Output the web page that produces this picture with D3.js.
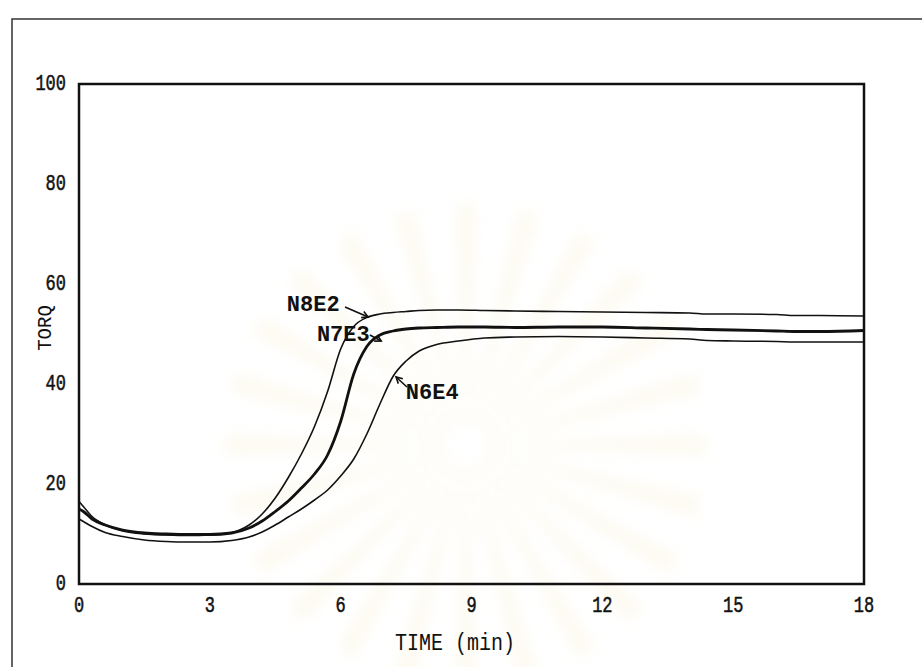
<!DOCTYPE html>
<html>
<head>
<meta charset="utf-8">
<script src="https://cdn.jsdelivr.net/npm/d3@7"></script>
<style>
  body { margin: 0; background: #fff; }
  text { font-family: "Liberation Mono", "DejaVu Sans Mono", monospace; fill: #111; }
</style>
</head>
<body>
<div id="canvas"></div>
<script>
// chart size
const width = 922;
const height = 667;

// time axis (min), shared by all three curves
const time = [0, 0.1, 0.3, 0.6, 1, 1.5, 2, 2.5, 3, 3.5, 3.9, 4.2, 4.5, 4.8, 5.1, 5.4, 5.7, 6.0, 6.3, 6.6,
  6.9, 7.2, 7.5, 7.8, 8.2, 8.7, 9.3, 10, 11, 12, 13, 14, 14.4, 15, 16, 16.4, 17, 18];

// torque readings per compound
const n8e2 = [16.5, 15.5, 13.5, 11.8, 10.6, 10, 9.8, 9.7, 9.8, 10.3, 11.8, 14, 17.2, 21.3, 26, 31.5, 38.5, 47, 51.5, 53.3,
  54, 54.3, 54.5, 54.7, 54.8, 54.8, 54.7, 54.6, 54.5, 54.4, 54.3, 54.2, 54.0, 54.0, 53.9, 53.7, 53.7, 53.6];
const n7e3 = [15, 14.5, 13, 11.8, 10.8, 10.2, 10, 9.9, 9.9, 10.2, 11.2, 12.6, 14.5, 16.6, 19.2, 22, 25.8, 32.5, 42, 47.5,
  49.8, 50.6, 51, 51.2, 51.3, 51.4, 51.4, 51.3, 51.4, 51.4, 51.2, 51, 50.9, 50.8, 50.6, 50.5, 50.5, 50.7];
const n6e4 = [13, 12.5, 11.5, 10.3, 9.5, 8.8, 8.5, 8.4, 8.4, 8.7, 9.4, 10.4, 11.8, 13.4, 15, 16.8, 18.8, 21.6, 25, 30,
  36, 41.5, 44.6, 46.6, 47.9, 48.6, 49.2, 49.4, 49.5, 49.4, 49.2, 49.0, 48.7, 48.6, 48.5, 48.4, 48.4, 48.4];

const xTicks = [0, 3, 6, 9, 12, 15, 18];
const yTicks = [0, 20, 40, 60, 80, 100];

// label text, label centre (t, v), arrow start and tip (t, v)
const labels = ['N8E2', 'N7E3', 'N6E4'];
const labelAt = [[5.37, 55.8], [6.06, 49.8], [8.1, 38.2]];
const arrowFrom = [[6.1, 55.4], [6.67, 49.8], [7.52, 39.4]];
const arrowTo = [[6.63, 53.4], [6.93, 48.6], [7.27, 41.4]];

const svg = d3.select('#canvas')
  .append('svg')
  .attr('width', width)
  .attr('height', height);

// soft blur for the faint watermark
svg.append('defs')
  .append('filter')
  .attr('id', 'soft')
  .append('feGaussianBlur')
  .attr('stdDeviation', 7);

// faint watermark emblem behind the plot (scan artefact)
const mark = svg.append('g')
  .attr('transform', 'translate(466, 445)')
  .attr('filter', 'url(#soft)')
  .style('opacity', 0.22);
const rays = d3.range(24);
mark.selectAll('path')
  .data(rays)
  .enter()
  .append('path')
  .attr('d', d3.arc()
    .innerRadius(35)
    .outerRadius(240)
    .startAngle(d => d / 24 * 2 * Math.PI - 0.04)
    .endAngle(d => d / 24 * 2 * Math.PI + 0.04))
  .style('fill', '#f3e7b8');
mark.append('circle')
  .attr('r', 28)
  .style('fill', 'none')
  .style('stroke', '#eee0b0')
  .style('stroke-width', 5);

// outer page frame (runs off the picture to the right and bottom)
svg.append('rect')
  .attr('x', 12)
  .attr('y', 19)
  .attr('width', 1000)
  .attr('height', 1000)
  .style('fill', 'none')
  .style('stroke', '#333')
  .style('stroke-width', 1.5);

const x = d3.scaleLinear().domain([0, 18]).range([79, 864]);
const y = d3.scaleLinear().domain([0, 100]).range([584, 84]);

// plot box
svg.append('rect')
  .attr('x', x(0))
  .attr('y', y(100))
  .attr('width', x(18) - x(0))
  .attr('height', y(0) - y(100))
  .style('fill', 'none')
  .style('stroke', '#111')
  .style('stroke-width', 2.5);

// y tick labels (tall narrow dot-matrix look)
svg.selectAll('.ylab')
  .data(yTicks)
  .enter()
  .append('text')
  .attr('class', 'ylab')
  .attr('transform', d => `translate(66, ${y(d) + 6}) scale(1, 1.35)`)
  .attr('text-anchor', 'end')
  .style('font-size', '17px')
  .style('stroke', '#111')
  .style('stroke-width', 0.4)
  .text(d => d);

// x tick labels
svg.selectAll('.xlab')
  .data(xTicks)
  .enter()
  .append('text')
  .attr('class', 'xlab')
  .attr('transform', d => `translate(${x(d)}, ${612}) scale(1, 1.35)`)
  .attr('text-anchor', 'middle')
  .style('font-size', '17px')
  .style('stroke', '#111')
  .style('stroke-width', 0.4)
  .text(d => d);

// axis titles
svg.append('text')
  .attr('transform', 'translate(455, 650) scale(1, 1.15)')
  .attr('text-anchor', 'middle')
  .style('font-size', '20px')
  .text('TIME (min)');

svg.append('text')
  .attr('transform', 'translate(51, 328) rotate(-90) scale(1, 1.1)')
  .attr('text-anchor', 'middle')
  .style('font-size', '19px')
  .text('TORQ');

// curves
const line = d3.line()
  .x(d => x(d[0]))
  .y(d => y(d[1]))
  .curve(d3.curveMonotoneX);

const series = [
  { values: n8e2, w: 1.6 },
  { values: n7e3, w: 2.8 },
  { values: n6e4, w: 1.6 }
];

svg.selectAll('.curve')
  .data(series)
  .enter()
  .append('path')
  .attr('class', 'curve')
  .attr('d', s => line(time.map((t, i) => [t, s.values[i]])))
  .style('fill', 'none')
  .style('stroke', '#111')
  .style('stroke-width', s => s.w)
  .style('stroke-linejoin', 'round');

// curve labels with small arrows
labels.forEach((name, i) => {
  svg.append('text')
    .attr('x', x(labelAt[i][0]))
    .attr('y', y(labelAt[i][1]))
    .attr('text-anchor', 'middle')
    .attr('dominant-baseline', 'central')
    .style('font-size', '22px')
    .style('font-weight', 'bold')
    .text(name);

  const x1 = x(arrowFrom[i][0]), y1 = y(arrowFrom[i][1]);
  const x2 = x(arrowTo[i][0]), y2 = y(arrowTo[i][1]);
  svg.append('line')
    .attr('x1', x1).attr('y1', y1)
    .attr('x2', x2).attr('y2', y2)
    .style('stroke', '#111')
    .style('stroke-width', 1.6);

  // arrow head
  const ang = Math.atan2(y2 - y1, x2 - x1);
  const hl = 7;
  const p = [
    [x2 - hl * Math.cos(ang - 0.5), y2 - hl * Math.sin(ang - 0.5)],
    [x2, y2],
    [x2 - hl * Math.cos(ang + 0.5), y2 - hl * Math.sin(ang + 0.5)]
  ];
  svg.append('path')
    .attr('d', d3.line()(p))
    .style('fill', 'none')
    .style('stroke', '#111')
    .style('stroke-width', 1.6);
});
</script>
</body>
</html>
